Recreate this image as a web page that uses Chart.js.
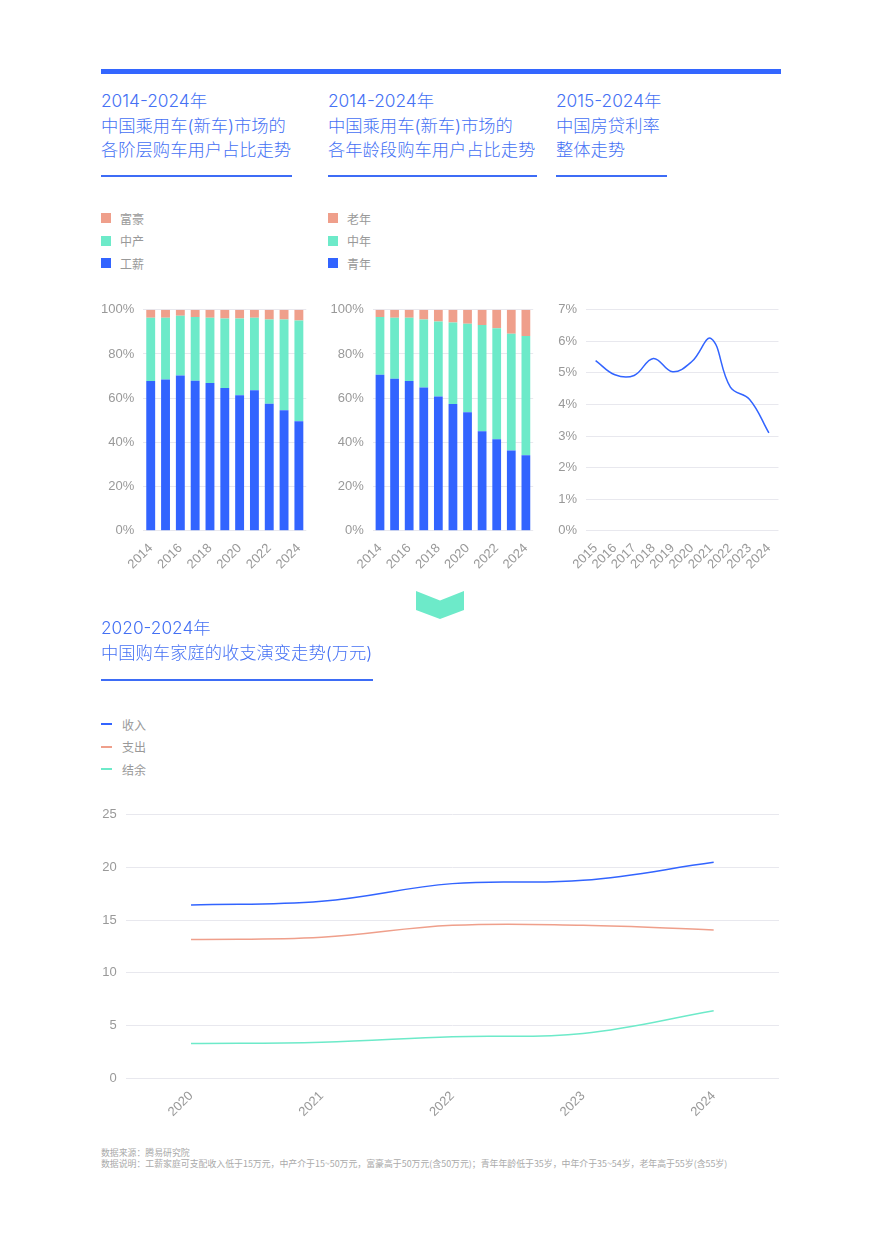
<!DOCTYPE html>
<html lang="zh-CN">
<head>
<meta charset="utf-8">
<title>中国购车市场走势</title>
<script src="https://cdn.jsdelivr.net/npm/chart.js@4.4.1/dist/chart.umd.min.js"></script>
<style>
  html, body { margin: 0; padding: 0; background: #fff; }
  body { width: 880px; height: 1236px; position: relative; overflow: hidden; font-family: "Noto Sans CJK SC", sans-serif; }
  .topbar { position: absolute; left: 101px; top: 69px; width: 680px; height: 5px; background: #3366ff; }
  .title { position: absolute; color: #4470f4; font-family: Inter, "Noto Sans CJK SC", sans-serif; font-size: 17.3px; line-height: 24.5px; font-weight: 300; white-space: nowrap; }
  .rule { position: absolute; height: 2px; background: #3d6cf6; }
  .legend { position: absolute; font-size: 12px; color: #999; }
  .legend div { height: 22.5px; display: flex; align-items: center; white-space: nowrap; }
  .sw { width: 10px; height: 10px; margin-right: 9px; }
  .ln { width: 11px; height: 2px; margin-right: 10px; }
  canvas { position: absolute; }
  .note { position: absolute; left: 101px; top: 1147px; font-size: 8.9px; line-height: 11px; color: #aaa; white-space: nowrap; }
</style>
</head>
<body>
<div class="topbar"></div>

<div class="title" style="left:101px; top:89px">2014-2024年<br>中国乘用车(新车)市场的<br>各阶层购车用户占比走势</div>
<div class="rule" style="left:101px; top:175px; width:191px"></div>
<div class="title" style="left:328px; top:89px">2014-2024年<br>中国乘用车(新车)市场的<br>各年龄段购车用户占比走势</div>
<div class="rule" style="left:328px; top:175px; width:209px"></div>
<div class="title" style="left:556px; top:89px">2015-2024年<br>中国房贷利率<br>整体走势</div>
<div class="rule" style="left:556px; top:175px; width:111px"></div>

<div class="legend" id="legendClass" style="left:101px; top:207px"></div>
<div class="legend" id="legendAge" style="left:328px; top:207px"></div>

<canvas id="classChart" width="222" height="297" style="left:90px; top:293px"></canvas>
<canvas id="ageChart" width="219" height="297" style="left:320px; top:293px"></canvas>
<canvas id="rateChart" width="237" height="297" style="left:545px; top:293px"></canvas>

<svg width="880" height="40" style="position:absolute; left:0; top:585px">
  <polygon points="416,6 440,15.5 464,6 464,25 440,34 416,25" fill="#6deac9"></polygon>
</svg>

<div class="title" style="left:101px; top:616px">2020-2024年<br>中国购车家庭的收支演变走势(万元)</div>
<div class="rule" style="left:101px; top:679px; width:272px"></div>

<div class="legend" id="legendFamily" style="left:101px; top:713px"></div>

<canvas id="familyChart" width="691" height="337" style="left:90px; top:798px"></canvas>

<div class="note">数据来源：腾易研究院<br>数据说明：工薪家庭可支配收入低于15万元，中产介于15~50万元，富豪高于50万元(含50万元)；青年年龄低于35岁，中年介于35~54岁，老年高于55岁(含55岁)</div>

<script>
// ---- data ----
const years = ['2014', '2015', '2016', '2017', '2018', '2019', '2020', '2021', '2022', '2023', '2024'];
const salaryShare = [67.8, 68.4, 70.3, 67.9, 66.9, 64.6, 61.3, 63.6, 57.5, 54.5, 49.5];
const middleShare = [28.6, 28.0, 27.0, 28.8, 29.5, 31.5, 34.8, 32.8, 38.1, 41.1, 45.7];
const richShare = [3.6, 3.6, 2.7, 3.3, 3.6, 3.9, 3.9, 3.6, 4.4, 4.4, 4.8];

const youngShare = [70.6, 68.8, 67.8, 64.8, 60.8, 57.4, 53.6, 45.0, 41.4, 36.3, 34.2];
const midAgeShare = [26.1, 27.6, 28.6, 30.8, 33.9, 36.9, 40.1, 48.1, 50.3, 52.9, 53.9];
const oldShare = [3.3, 3.6, 3.6, 4.4, 5.3, 5.7, 6.3, 6.9, 8.3, 10.8, 11.9];

const rateYears = ['2015', '2016', '2017', '2018', '2019', '2020', '2021', '2022', '2023', '2024'];
const mortgageRate = [5.39, 4.94, 4.92, 5.46, 5.04, 5.36, 6.09, 4.55, 4.16, 3.1];

const familyYears = ['2020', '2021', '2022', '2023', '2024'];
const income = [16.45, 16.8, 18.47, 18.78, 20.49];
const expense = [13.16, 13.38, 14.52, 14.52, 14.08];
const balance = [3.3, 3.42, 3.95, 4.26, 6.41];

const BLUE = '#3264ff', GREEN = '#6deac9', SALMON = '#ef9f8b';
const FONT = "'Liberation Sans', 'Noto Sans CJK SC', sans-serif";
const GRID = '#e8e8ee', TICK = '#999';

// html legends, top row first
function legend(id, items, kind) {
  const box = document.getElementById(id);
  items.forEach(function (it) {
    const row = document.createElement('div');
    const mark = document.createElement('span');
    mark.className = kind;
    mark.style.background = it[1];
    row.appendChild(mark);
    row.appendChild(document.createTextNode(it[0]));
    box.appendChild(row);
  });
}
legend('legendClass', [['富豪', SALMON], ['中产', GREEN], ['工薪', BLUE]], 'sw');
legend('legendAge', [['老年', SALMON], ['中年', GREEN], ['青年', BLUE]], 'sw');
legend('legendFamily', [['收入', BLUE], ['支出', SALMON], ['结余', GREEN]], 'ln');

// fixed axis boxes so the plot areas land where the reference has them
function options(c) {
  return {
    responsive: false,
    animation: false,
    layout: { padding: { top: 2, right: 2, left: 0, bottom: 0 } },
    plugins: { legend: { display: false }, tooltip: { enabled: false } },
    scales: {
      x: {
        stacked: !!c.stacked,
        offset: true,
        grid: { display: false },
        border: { display: false },
        ticks: {
          color: TICK, font: { family: FONT, size: 13 },
          minRotation: 45, maxRotation: 45, autoSkip: false, padding: c.xPad,
          callback: function (v, i) {
            return (c.everyOther && i % 2) ? '' : this.getLabelForValue(v);
          }
        },
        afterFit: function (s) { s.height = c.xh; }
      },
      y: {
        stacked: !!c.stacked,
        min: 0, max: c.max,
        grid: { color: GRID, drawTicks: false },
        border: { display: false },
        ticks: {
          stepSize: c.step, color: TICK, font: { family: FONT, size: 13 }, padding: 9,
          callback: function (v) { return v + c.unit; }
        },
        afterFit: function (s) { s.width = c.yw; }
      }
    }
  };
}

function stackSet(label, data, color) {
  return { label: label, data: data, backgroundColor: color, borderWidth: 0,
           categoryPercentage: 1, barPercentage: 0.6 };
}

new Chart(document.getElementById('classChart'), {
  type: 'bar',
  data: {
    labels: years,
    datasets: [
      stackSet('工薪', salaryShare, BLUE),
      stackSet('中产', middleShare, GREEN),
      stackSet('富豪', richShare, SALMON)
    ]
  },
  options: options({ stacked: true, yw: 53.3, xh: 59.3, xPad: 2, max: 100, step: 20, unit: '%', everyOther: true })
});

new Chart(document.getElementById('ageChart'), {
  type: 'bar',
  data: {
    labels: years,
    datasets: [
      stackSet('青年', youngShare, BLUE),
      stackSet('中年', midAgeShare, GREEN),
      stackSet('老年', oldShare, SALMON)
    ]
  },
  options: options({ stacked: true, yw: 52.7, xh: 59.3, xPad: 2, max: 100, step: 20, unit: '%', everyOther: true })
});

new Chart(document.getElementById('rateChart'), {
  type: 'line',
  data: {
    labels: rateYears,
    datasets: [{ label: '房贷利率', data: mortgageRate, borderColor: BLUE, borderWidth: 1.5,
                 pointRadius: 0, tension: 0.4, fill: false }]
  },
  options: options({ yw: 41, xh: 59.3, xPad: 2, max: 7, step: 1, unit: '%' })
});

function lineSet(label, data, color) {
  return { label: label, data: data, borderColor: color, borderWidth: 1.5,
           pointRadius: 0, tension: 0.4, fill: false };
}

new Chart(document.getElementById('familyChart'), {
  type: 'line',
  data: {
    labels: familyYears,
    datasets: [
      lineSet('收入', income, BLUE),
      lineSet('支出', expense, SALMON),
      lineSet('结余', balance, GREEN)
    ]
  },
  options: options({ yw: 35.7, xh: 56.7, xPad: 2, max: 25, step: 5, unit: '' })
});
</script>
</body>
</html>
